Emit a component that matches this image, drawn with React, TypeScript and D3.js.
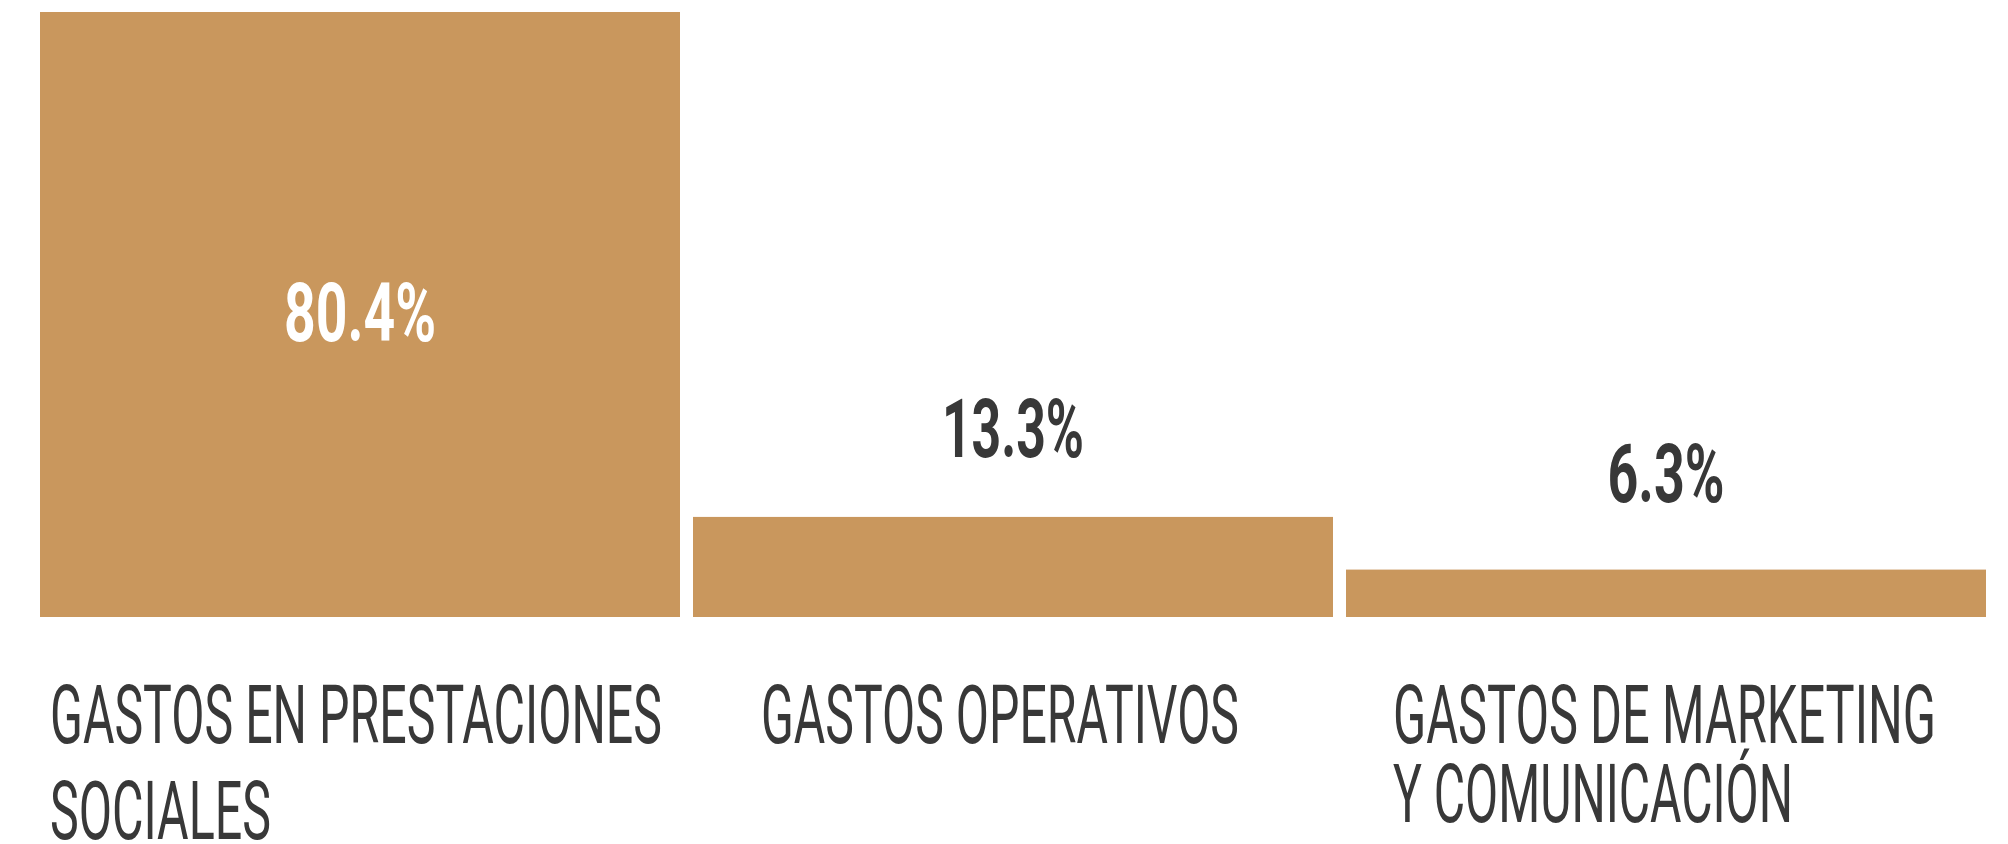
import React from "react";
import * as d3 from "d3";

const categories = ["GASTOS EN PRESTACIONES SOCIALES", "GASTOS OPERATIVOS", "GASTOS DE MARKETING Y COMUNICACIÓN"];
const labelLines = [["GASTOS EN PRESTACIONES", "SOCIALES"], ["GASTOS OPERATIVOS"], ["GASTOS DE MARKETING", "Y COMUNICACIÓN"]];
const values = [80.4, 13.3, 6.3];
const valueLabels = ["80.4%", "13.3%", "6.3%"];

const W = 2008;
const H = 844;
const BAR = "#C9975D";
const DARK = "#383838";
const FONT = "Roboto, 'Noto Sans', sans-serif";

// layout
const labelOffsetX = [10, 68, 47];
const labelLineWidths = [[612, 221], [478], [543, 400]];
const labelLineBaselines = [[743, 839], [743], [743, 822]];
const valueWidths = [152, 142, 117];
const valueAboveGap = [0, 60, 68];

export default function App() {
  const x = d3.scaleBand<string>().domain(categories).range([40, 1986]).paddingInner(13 / 653).paddingOuter(0);
  const y = d3.scaleLinear().domain([0, 80.4]).range([617, 12]);

  return (
    <svg width={W} height={H} style={{ position: "absolute", left: 0, top: 0, background: "#fff" }}>
      {categories.map((c, i) => {
        const bx = x(c)!;
        const bw = x.bandwidth();
        const top = y(values[i]);
        const cx = bx + bw / 2;
        const inside = i === 0;
        const vy = inside ? (top + y(0)) / 2 + 26 : top - valueAboveGap[i];
        return (
          <g key={c}>
            <rect x={bx} y={top} width={bw} height={y(0) - top} fill={BAR} />
            <text
              x={cx}
              y={vy}
              textAnchor="middle"
              fontFamily={FONT}
              fontWeight={700}
              fontSize={81}
              fill={inside ? "#ffffff" : DARK}
              textLength={valueWidths[i]}
              lengthAdjust="spacingAndGlyphs"
            >
              {valueLabels[i]}
            </text>
            {labelLines[i].map((line, j) => (
              <text
                key={j}
                x={bx + labelOffsetX[i]}
                y={labelLineBaselines[i][j]}
                fontFamily={FONT}
                fontWeight={400}
                fontSize={82}
                fill={DARK}
                textLength={labelLineWidths[i][j]}
                lengthAdjust="spacingAndGlyphs"
              >
                {line}
              </text>
            ))}
          </g>
        );
      })}
    </svg>
  );
}
